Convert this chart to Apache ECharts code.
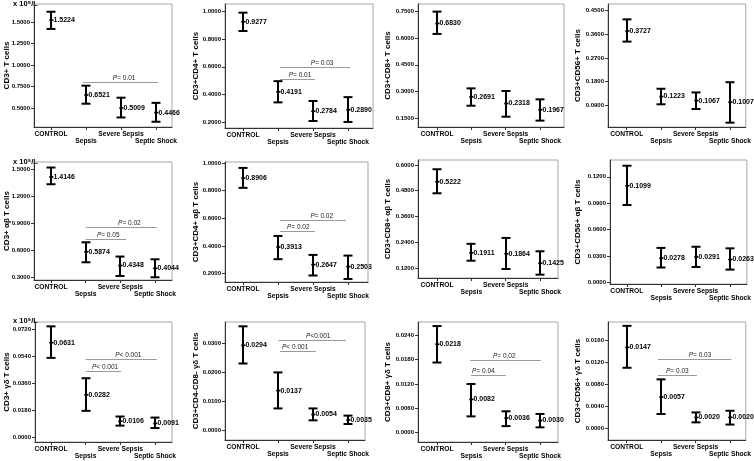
<!DOCTYPE html>
<html>
<head>
<meta charset="utf-8">
<script src="https://cdn.jsdelivr.net/npm/echarts@6/dist/echarts.min.js"></script>
<style>html,body{margin:0;padding:0;background:#fff;}#c{width:754px;height:461px;}</style>
</head>
<body>
<div id="c"></div>
<script>
// ---------- DATA ----------
const categories = ['CONTROL', 'Sepsis', 'Severe Sepsis', 'Septic Shock'];
const yTitles = ['CD3+ T cells', 'CD3+CD4+ T cells', 'CD3+CD8+ T cells', 'CD3+CD56+ T cells',
  'CD3+ αβ T cells', 'CD3+CD4+ αβ T cells', 'CD3+CD8+ αβ T cells', 'CD3+CD56+ αβ T cells',
  'CD3+ γδ T cells', 'CD3+CD4-CD8- γδ T cells', 'CD3+CD8+ γδ T cells', 'CD3+CD56+ γδ T cells'];
const meanValues = [
  [1.5224, 0.6521, 0.5009, 0.4466],
  [0.9277, 0.4191, 0.2784, 0.2890],
  [0.6830, 0.2691, 0.2318, 0.1967],
  [0.3727, 0.1223, 0.1067, 0.1007],
  [1.4146, 0.5874, 0.4348, 0.4044],
  [0.8906, 0.3913, 0.2647, 0.2503],
  [0.5222, 0.1911, 0.1864, 0.1425],
  [0.1099, 0.0278, 0.0291, 0.0263],
  [0.0631, 0.0282, 0.0106, 0.0091],
  [0.0294, 0.0137, 0.0054, 0.0035],
  [0.0218, 0.0082, 0.0036, 0.0030],
  [0.0147, 0.0057, 0.0020, 0.0020]];
const upperValues = [
  [1.62, 0.76, 0.62, 0.56],
  [0.993, 0.496, 0.352, 0.38],
  [0.75, 0.317, 0.302, 0.255],
  [0.417, 0.152, 0.138, 0.177],
  [1.519, 0.692, 0.534, 0.504],
  [0.964, 0.472, 0.335, 0.330],
  [0.58, 0.2326, 0.26, 0.198],
  [0.1325, 0.0394, 0.0407, 0.0389],
  [0.074, 0.0393, 0.0137, 0.013],
  [0.036, 0.020, 0.0075, 0.005],
  [0.0263, 0.012, 0.00526, 0.0046],
  [0.0186, 0.0089, 0.0029, 0.0032]];
const lowerValues = [
  [1.42, 0.55, 0.39, 0.34],
  [0.86, 0.342, 0.207, 0.20],
  [0.624, 0.219, 0.157, 0.135],
  [0.332, 0.0927, 0.0747, 0.0225],
  [1.334, 0.471, 0.319, 0.305],
  [0.82, 0.304, 0.186, 0.161],
  [0.468, 0.154, 0.1153, 0.089],
  [0.088, 0.0172, 0.0178, 0.0148],
  [0.0529, 0.0175, 0.0076, 0.006],
  [0.0231, 0.0075, 0.00336, 0.0021],
  [0.0173, 0.004, 0.0016, 0.0013],
  [0.011, 0.00262, 0.0011, 0.0007]];
const yTicks = [
  [0.5, 0.75, 1.0, 1.25, 1.5],
  [0.2, 0.4, 0.6, 0.8, 1.0],
  [0.15, 0.30, 0.45, 0.60, 0.75],
  [0.09, 0.18, 0.27, 0.36, 0.45],
  [0.3, 0.6, 0.9, 1.2, 1.5],
  [0.2, 0.4, 0.6, 0.8, 1.0],
  [0.12, 0.24, 0.36, 0.48, 0.60],
  [0, 0.03, 0.06, 0.09, 0.12],
  [0, 0.018, 0.036, 0.054, 0.072],
  [0, 0.01, 0.02, 0.03],
  [0, 0.006, 0.012, 0.018, 0.024],
  [0, 0.004, 0.008, 0.012, 0.016]];
const yMin = [0.279, 0.156, 0.099, 0.006, 0.275, 0.139, 0.0735, -0.0015, -0.00334, -0.00346, -0.00232, -0.0021];
const yMax = [1.71, 1.056, 0.793, 0.4756, 1.58, 1.007, 0.623, 0.139, 0.0769, 0.0375, 0.0273, 0.0193];
// significance brackets
const bracketPanel = [0, 1, 1, 4, 4, 5, 5, 8, 8, 9, 9, 10, 10, 11, 11];
const bracketY = [0.805, 0.598, 0.511, 0.856, 0.728, 0.588, 0.508, 0.052, 0.044, 0.0311, 0.0273, 0.018, 0.0141, 0.01254, 0.0097];
const bracketFrom = [0.91, 1.06, 1.06, 1.0, 1.0, 1.06, 1.06, 1.0, 1.0, 1.01, 1.06, 0.97, 0.99, 0.91, 0.91];
const bracketTo = [3.06, 3.06, 2.06, 3.05, 2.17, 2.94, 2.06, 3.05, 2.02, 2.94, 2.08, 3.02, 2.0, 3.04, 2.04];
const bracketLabelX = [2.09, 2.26, 1.63, 2.26, 1.65, 2.25, 1.58, 2.23, 1.56, 2.15, 1.49, 1.96, 1.35, 2.13, 1.47];
const bracketText = ['= 0.01', '= 0.03', '= 0.01', '= 0.02', '= 0.05', '= 0.02', '= 0.02', '< 0.001', '< 0.001', '<0.001', '< 0.001', '= 0.02', '= 0.04', '= 0.03', '= 0.03'];
const unitText = 'x 10⁹/L';

// ---------- LAYOUT ----------
// [left, top, right, bottom, xMin, xMax, titleCenterDistance]
const layout = [
  [34, 4, 172, 127, -0.486, 3.457, 27],
  [225, 4, 373, 128, -0.514, 3.714, 29],
  [418, 4, 564, 127, -0.553, 3.70, 30],
  [608, 4, 748, 127, -0.543, 3.457, 30],
  [34, 162, 172, 280, -0.49, 3.49, 27],
  [225, 162, 368, 282, -0.514, 3.571, 29],
  [418, 160, 558, 278, -0.553, 3.524, 30],
  [610, 160, 748, 284, -0.49, 3.49, 32],
  [35, 322, 172, 442, -0.46, 3.49, 28],
  [225, 322, 365, 440, -0.514, 3.486, 29],
  [418, 322, 558, 442, -0.553, 3.524, 30],
  [608, 322, 748, 440, -0.543, 3.457, 30]];
const unitPos = [[13, 4], [13, 162], [13, 321]];

const FF = '"Liberation Sans", Arial, sans-serif';
const chart = echarts.init(document.getElementById('c'), null, {renderer: 'canvas'});

const grids = [], xAxes = [], yAxes = [], series = [];
const N = layout.length;
const catFmt = v => categories[Math.round(v)];
const labelBase = {fontSize: 6.7, fontWeight: 'bold', color: '#000', fontFamily: FF, hideOverlap: false};
layout.forEach((l, i) => {
  grids.push({left: l[0], top: l[1], width: l[2] - l[0], height: l[3] - l[1],
    show: true, borderColor: '#a6a6a6', borderWidth: 1, backgroundColor: 'transparent'});
  xAxes[i] = {type: 'value', gridIndex: i, position: 'bottom', offset: 0, min: l[4], max: l[5],
    splitLine: {show: false},
    axisLine: {show: true, onZero: false, lineStyle: {color: '#333', width: 1}},
    axisTick: {show: true, customValues: [0, 1, 2, 3], length: 3, lineStyle: {color: '#333'}},
    axisLabel: Object.assign({customValues: [0, 2], margin: 4, formatter: catFmt}, labelBase)
  };
  xAxes[N + i] = {type: 'value', gridIndex: i, position: 'bottom', offset: 0, min: l[4], max: l[5],
    splitLine: {show: false},
    axisLine: {show: false, onZero: false},
    axisTick: {show: false},
    axisLabel: Object.assign({customValues: [1, 3], margin: 11, formatter: catFmt}, labelBase)
  };
  yAxes.push({type: 'value', gridIndex: i, min: yMin[i], max: yMax[i],
    splitLine: {show: false},
    axisLine: {show: true, onZero: false, lineStyle: {color: '#333', width: 1}},
    axisTick: {show: true, customValues: yTicks[i], length: 3, lineStyle: {color: '#333'}},
    axisLabel: {customValues: yTicks[i], fontSize: 6, fontWeight: 'bold', color: '#000',
      fontFamily: FF, margin: 4, hideOverlap: false, formatter: v => v.toFixed(4)},
    name: yTitles[i], nameLocation: 'middle', nameRotate: 90, nameGap: l[6] - 4, nameMoveOverlap: false,
    nameTextStyle: {fontSize: 8, fontWeight: 'bold', color: '#000', fontFamily: FF}
  });
  const means = meanValues[i];
  series.push({
    type: 'custom', xAxisIndex: i, yAxisIndex: i, clip: false,
    data: means.map((m, k) => [k, m, lowerValues[i][k], upperValues[i][k]]),
    renderItem: (params, api) => {
      const x = api.value(0), m = api.value(1), lo = api.value(2), hi = api.value(3);
      const pm = api.coord([x, m]), pl = api.coord([x, lo]), ph = api.coord([x, hi]);
      const cx = Math.round(pm[0]);
      const cw = 4.5;
      const st = {stroke: '#000', lineWidth: 2};
      return {type: 'group', children: [
        {type: 'line', shape: {x1: cx, y1: ph[1], x2: cx, y2: pl[1]}, style: st},
        {type: 'line', shape: {x1: cx - cw, y1: ph[1], x2: cx + cw, y2: ph[1]}, style: st},
        {type: 'line', shape: {x1: cx - cw, y1: pl[1], x2: cx + cw, y2: pl[1]}, style: st},
        {type: 'line', shape: {x1: cx - 1.5, y1: pm[1], x2: cx + 2.5, y2: pm[1]}, style: {stroke: '#000', lineWidth: 1.5}},
        {type: 'circle', shape: {cx: cx, cy: pm[1], r: 1.5}, style: {fill: '#000'}},
        {type: 'text', x: cx + 2.5, y: pm[1], style: {text: means[params.dataIndex].toFixed(4),
          fontSize: 7, fontWeight: 'bold', fill: '#000', fontFamily: FF, verticalAlign: 'middle', align: 'left'}}
      ]};
    }
  });
});

// brackets
layout.forEach((l, i) => {
  const idx = [];
  bracketPanel.forEach((p, j) => { if (p === i) idx.push(j); });
  if (!idx.length) return;
  series.push({
    type: 'custom', xAxisIndex: i, yAxisIndex: i, clip: false,
    data: idx.map(j => [bracketFrom[j], bracketTo[j], bracketY[j], bracketLabelX[j], j]),
    renderItem: (params, api) => {
      const a = api.coord([api.value(0), api.value(2)]);
      const b = api.coord([api.value(1), api.value(2)]);
      const t = api.coord([api.value(3), api.value(2)]);
      const j = api.value(4);
      const yy = Math.round(a[1]) + 0.5;
      return {type: 'group', children: [
        {type: 'line', shape: {x1: a[0], y1: yy, x2: b[0], y2: yy}, style: {stroke: '#9a9a9a', lineWidth: 1}},
        {type: 'text', x: t[0], y: yy - 4, style: {text: '{i|P}' + bracketText[j], fontSize: 6.5,
          fill: '#222', fontFamily: FF, align: 'center', verticalAlign: 'middle',
          rich: {i: {fontStyle: 'italic', fontSize: 6.5, fill: '#222', fontFamily: FF}}}}
      ]};
    }
  });
});

const graphics = unitPos.map(p => ({type: 'text', left: p[0], top: p[1] - 4,
  style: {text: unitText, fontSize: 7.5, fontWeight: 'bold', fill: '#000', fontFamily: FF}}));

chart.setOption({
  animation: false,
  backgroundColor: '#fff',
  grid: grids, xAxis: xAxes, yAxis: yAxes, series: series, graphic: graphics
});
</script>
</body>
</html>
